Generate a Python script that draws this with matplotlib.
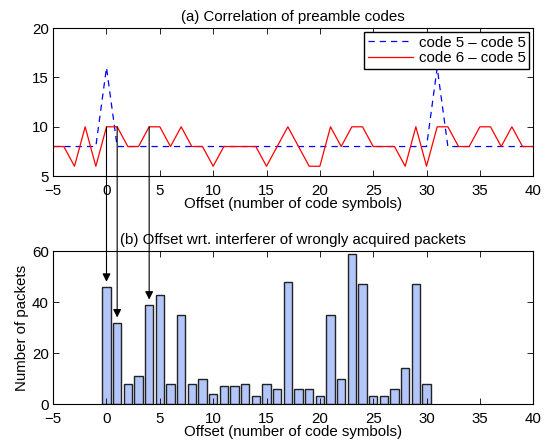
import matplotlib.pyplot as plt
from matplotlib.patches import ConnectionPatch

plt.rcParams['font.family'] = ['Liberation Sans', 'DejaVu Sans']
plt.rcParams['font.size'] = 10.8

# (a) correlation of preamble codes
offsets_a = list(range(-5, 41))
code55 = [8, 8, 8, 8, 8, 16, 8, 8, 8, 8, 8, 8, 8, 8, 8, 8, 8, 8, 8, 8, 8, 8, 8,
          8, 8, 8, 8, 8, 8, 8, 8, 8, 8, 8, 8, 8, 16, 8, 8, 8, 8, 8, 8, 8, 8, 8]
code65 = [8, 8, 6, 10, 6, 10, 10, 8, 8, 10, 10, 8, 10, 8, 8, 6, 8, 8, 8, 8, 6, 8, 10,
          8, 6, 6, 10, 8, 10, 10, 8, 8, 8, 6, 10, 6, 10, 10, 8, 8, 10, 10, 8, 10, 8, 8]

# (b) offsets of wrongly acquired packets
offsets_b = list(range(0, 31))
packets = [46, 32, 8, 11, 39, 43, 8, 35, 8, 10, 4, 7, 7, 8, 3, 8, 6, 48, 6, 6, 3,
           35, 10, 59, 47, 3, 3, 6, 14, 47, 8]

# arrows linking correlation peaks to packet counts
arrow_offsets = [0, 1, 4]

fig = plt.figure(figsize=(5.48, 4.47), dpi=100)
ax1 = fig.add_axes([0.097, 0.606, 0.876, 0.331])
ax2 = fig.add_axes([0.097, 0.096, 0.876, 0.342])

ax1.plot(offsets_a, code55, color='blue', ls=(0, (5, 4)), lw=0.9, label='code 5 \u2013 code 5')
ax1.plot(offsets_a, code65, color='red', lw=0.9, label='code 6 \u2013 code 5')
ax1.set_xlim(-5, 40)
ax1.set_ylim(5, 20)
ax1.set_yticks([5, 10, 15, 20])
ax1.set_xlabel('Offset (number of code symbols)', labelpad=-1)
ax1.set_title('(a) Correlation of preamble codes', fontsize=10.8, pad=5)
leg = ax1.legend(loc='upper right', fancybox=False, framealpha=1,
                 edgecolor='black', borderaxespad=0.25, handlelength=3.0,
                 labelspacing=0.1, borderpad=0.25, handletextpad=0.4)
leg.get_frame().set_linewidth(1.0)

ax2.bar(offsets_b, packets, width=0.8, color='#b3c6fa', edgecolor='#222222', lw=1.0)
ax2.set_xlim(-5, 40)
ax2.set_ylim(0, 60)
ax2.set_yticks([0, 20, 40, 60])
ax2.set_xlabel('Offset (number of code symbols)', labelpad=-1)
ax2.set_ylabel('Number of packets', labelpad=2)
ax2.set_title('(b) Offset wrt. interferer of wrongly acquired packets', fontsize=10.8, pad=5)

for ax in (ax1, ax2):
    ax.tick_params(direction='in', top=True, right=True, length=4, width=0.6)
    ax.tick_params(axis='x', pad=6)
    ax.tick_params(axis='y', pad=3)
    for s in ax.spines.values():
        s.set_linewidth(0.8)

for x in arrow_offsets:
    con = ConnectionPatch(xyA=(x, code65[offsets_a.index(x)]), coordsA=ax1.transData,
                          xyB=(x, packets[x] + 2), coordsB=ax2.transData,
                          arrowstyle='-|>', color='black', lw=0.8,
                          mutation_scale=12)
    fig.add_artist(con)

fig.savefig('out.png', dpi=100)
